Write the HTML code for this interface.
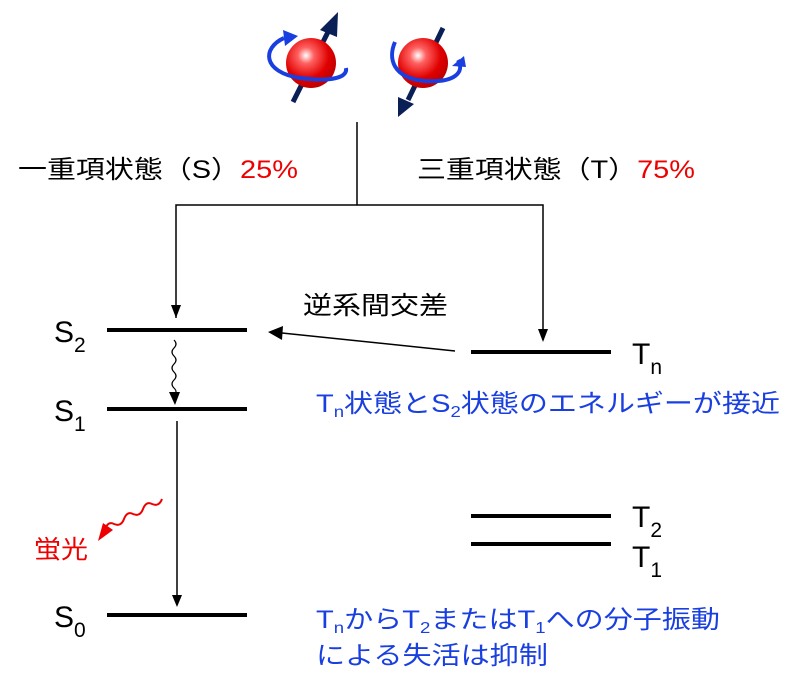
<!DOCTYPE html>
<html><head><meta charset="utf-8"><style>
html,body{margin:0;padding:0;background:#fff;}
svg{display:block;}
text{font-family:"Liberation Sans","Noto Sans CJK JP",sans-serif;}
</style></head><body>
<svg width="800" height="676" viewBox="0 0 800 676" xmlns="http://www.w3.org/2000/svg">
<defs>
<radialGradient id="ball" cx="0.4" cy="0.35" r="0.65">
<stop offset="0" stop-color="#fff"/>
<stop offset="0.25" stop-color="#ff6060"/>
<stop offset="0.7" stop-color="#e00000"/>
<stop offset="1" stop-color="#c00000"/>
</radialGradient>
</defs>
<line x1="293" y1="102" x2="330" y2="28" stroke="#0a1f55" stroke-width="5"/>
<polygon points="338,12 320,30 337,37" fill="#0a1f55"/>
<circle cx="311" cy="63" r="25" fill="url(#ball)"/>
<path d="M284,38 C262,48 262,72 300,78 C330,82 348,78 346,68" fill="none" stroke="#1a3fe0" stroke-width="4"/>
<polygon points="298,36 283,30 285,46" fill="#1a3fe0"/>
<line x1="443" y1="28" x2="408" y2="100" stroke="#0a1f55" stroke-width="5"/>
<polygon points="398,117 398,97 414,104" fill="#0a1f55"/>
<circle cx="423" cy="63" r="25" fill="url(#ball)"/>
<path d="M395,42 C388,58 392,78 425,81 C455,83 465,72 458,60" fill="none" stroke="#1a3fe0" stroke-width="4"/>
<polygon points="452,66 464,56 466,67" fill="#1a3fe0"/>
<line x1="357" y1="122" x2="357" y2="205" stroke="#000" stroke-width="1.5"/>
<polyline points="176,318 176,205 543,205 543,340" fill="none" stroke="#000" stroke-width="1.5"/>
<polygon points="171,305 181,305 176,318" fill="#000"/>
<polygon points="538,329 548,329 543,342" fill="#000"/>
<text x="18" y="178" font-size="25" textLength="280" lengthAdjust="spacingAndGlyphs">一重項状態（S）<tspan fill="#e00">25%</tspan></text>
<text x="417" y="178" font-size="25" textLength="278" lengthAdjust="spacingAndGlyphs">三重項状態（T）<tspan fill="#e00">75%</tspan></text>
<text x="303" y="314" font-size="25" textLength="145" lengthAdjust="spacingAndGlyphs">逆系間交差</text>
<g stroke="#000" stroke-width="4">
<line x1="107" y1="330" x2="247" y2="330"/>
<line x1="107" y1="409" x2="247" y2="409"/>
<line x1="107" y1="615" x2="247" y2="615"/>
<line x1="471" y1="352" x2="611" y2="352"/>
<line x1="471" y1="516" x2="611" y2="516"/>
<line x1="471" y1="544" x2="611" y2="544"/>
</g>
<line x1="455" y1="351" x2="282" y2="333" stroke="#000" stroke-width="1.5"/>
<polygon points="268,332 283,326 282,340" fill="#000"/>
<path d="M174,340 q4,4 0,8 q-4,4 0,8 q4,4 0,8 q-4,4 0,8 q4,4 0,8 q-4,4 0,8 q4,4 0,6" fill="none" stroke="#000" stroke-width="1.2"/>
<polygon points="169,392 180,392 175,405" fill="#000"/>
<line x1="177" y1="421" x2="177" y2="597" stroke="#000" stroke-width="1.5"/>
<polygon points="172,595 182,595 177,607" fill="#000"/>
<path d="M162,499 q-3,8 -10,5 q-6,-3 -9,5 q-3,8 -10,5 q-6,-3 -9,5 q-3,8 -10,5 q-6,-3 -9,5" fill="none" stroke="#e00" stroke-width="2"/>
<polygon points="98,541 113,530 103,523" fill="#e00"/>
<text x="34" y="558" font-size="25" fill="#e00" textLength="54" lengthAdjust="spacingAndGlyphs">蛍光</text>
<g font-size="30">
<text x="54" y="342">S<tspan font-size="21" dy="10">2</tspan></text>
<text x="54" y="421">S<tspan font-size="21" dy="10">1</tspan></text>
<text x="54" y="627">S<tspan font-size="21" dy="10">0</tspan></text>
<text x="632" y="364">T<tspan font-size="21" dy="10">n</tspan></text>
<text x="632" y="527">T<tspan font-size="21" dy="10">2</tspan></text>
<text x="632" y="567">T<tspan font-size="21" dy="10">1</tspan></text>
</g>
<g font-size="25" fill="#1a3fe0">
<text x="316" y="412" textLength="464" lengthAdjust="spacingAndGlyphs">T<tspan font-size="16" dy="5">n</tspan><tspan dy="-5">状態とS</tspan><tspan font-size="16" dy="5">2</tspan><tspan dy="-5">状態のエネルギーが接近</tspan></text>
<text x="316" y="628" textLength="404" lengthAdjust="spacingAndGlyphs">T<tspan font-size="16" dy="5">n</tspan><tspan dy="-5">からT</tspan><tspan font-size="16" dy="5">2</tspan><tspan dy="-5">またはT</tspan><tspan font-size="16" dy="5">1</tspan><tspan dy="-5">への分子振動</tspan></text>
<text x="316" y="664" textLength="232" lengthAdjust="spacingAndGlyphs">による失活は抑制</text>
</g>
</svg>
</body></html>
